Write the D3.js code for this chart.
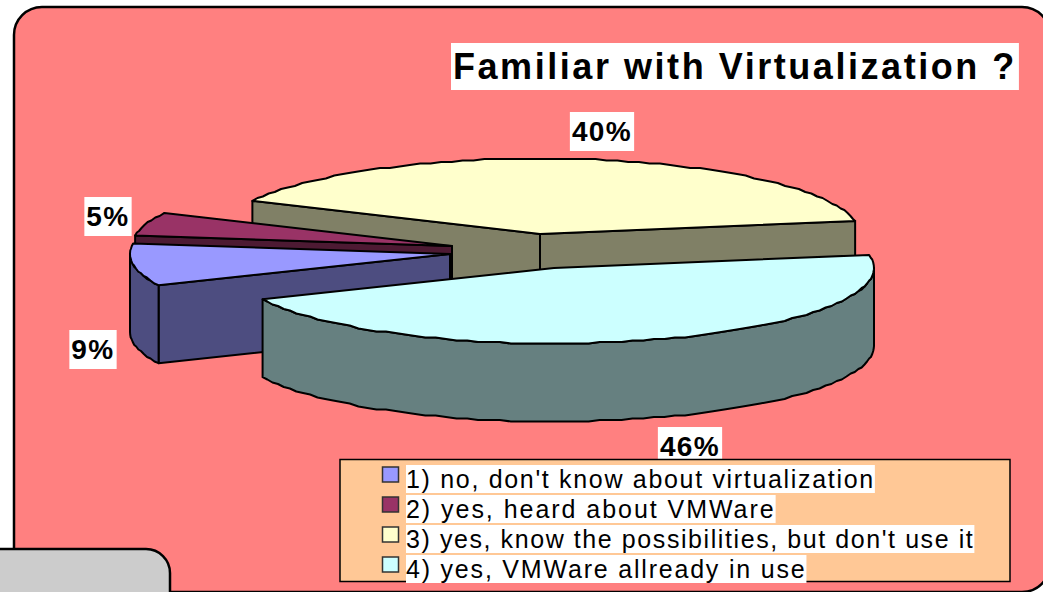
<!DOCTYPE html>
<html>
<head>
<meta charset="utf-8">
<script src="https://cdn.jsdelivr.net/npm/d3@7/dist/d3.min.js"></script>
<style>
  html, body { margin: 0; padding: 0; background: #fff; overflow: hidden; }
  text { font-family: "Liberation Sans", Arial, sans-serif; fill: #000; }
</style>
</head>
<body>
<script>
const categories = [
  "1) no, don't know about virtualization",
  "2) yes, heard about VMWare",
  "3) yes, know the possibilities, but don't use it",
  "4) yes, VMWare allready in use"
];
const percents = [9, 5, 40, 46];
const chartTitle = "Familiar with Virtualization ?";

const topColors = ["#9999ff", "#993366", "#ffffcc", "#ccffff"];
const wallColors = ["#4d4d80", "#4d1a33", "#808066", "#668080"];
// where the point of each exploded slice ends up, pixels
const apexX = [450, 452, 540, 554];
const apexY = [254, 246, 234, 268];
// label box centres, pixels
const labelX = [93, 108, 602, 690];
const labelY = [349, 216, 131, 446];
const drawOrder = [2, 1, 0, 3];
// legend rows were stretched differently in the original
const legendSpacing = [1.68, 1.96, 1.58, 1.8];

const width = 1043, height = 592;
const rx = 320, ry = 75.5, depth = 78;
const deg = Math.PI / 180;

const svg = d3.select("body").append("svg")
  .attr("width", width).attr("height", height)
  .style("display", "block");

// panel, runs off the right and bottom of the picture
svg.append("rect")
  .attr("x", 14).attr("y", 7)
  .attr("width", 1036).attr("height", 585)
  .attr("rx", 28).attr("ry", 28)
  .attr("fill", "#ff8080").attr("stroke", "#000").attr("stroke-width", 2.5);

svg.append("rect")
  .attr("x", -30).attr("y", 549)
  .attr("width", 200).attr("height", 80)
  .attr("rx", 24).attr("ry", 24)
  .attr("fill", "#cccccc").attr("stroke", "#000").attr("stroke-width", 2.5);

// pie angles, clockwise from 12 o'clock. Blue starts lower left
const startAngle = -114.4 * deg;
const arcs = d3.pie().sort(null)
  .startAngle(startAngle)
  .endAngle(startAngle + 2 * Math.PI)(percents);

const xUnit = d3.scaleLinear().domain([-1, 1]).range([-rx, rx]);
const yUnit = d3.scaleLinear().domain([-1, 1]).range([-ry, ry]);

const rim = (i, angle, drop = 0) => [
  apexX[i] + xUnit(Math.sin(angle)),
  apexY[i] + yUnit(-Math.cos(angle)) + drop
];

// the original rim is a little stair-stepped, so snap the points
const rimPoints = (i, a0, a1, drop = 0) => {
  const n = Math.max(2, Math.ceil(Math.abs(a1 - a0) / (2 * deg)));
  return d3.range(n + 1).map(k => {
    const p = rim(i, a0 + (a1 - a0) * k / n, drop);
    return (k == 0 || k == n) ? p : [p[0], Math.round(p[1] / 1.5) * 1.5];
  });
};

const line = d3.line();
const pieG = svg.append("g")
  .attr("stroke", "#000").attr("stroke-width", 2)
  .attr("stroke-linejoin", "round");

const addWall = (pts, color) => pieG.append("path")
  .attr("d", line(pts) + "Z").attr("fill", color);

const norm = t => ((t % (2 * Math.PI)) + 2 * Math.PI) % (2 * Math.PI);

drawOrder.forEach(i => {
  const a = arcs[i];
  const apex = [apexX[i], apexY[i]];
  const apexLow = [apexX[i], apexY[i] + depth];
  const s = norm(a.startAngle), e = s + (a.endAngle - a.startAngle);

  // straight cut faces, only those looking toward the viewer
  if (Math.sin(a.startAngle) < 0) addWall([apex, rim(i, a.startAngle), rim(i, a.startAngle, depth), apexLow], wallColors[i]);
  if (Math.sin(a.endAngle) > 0) addWall([apex, rim(i, a.endAngle), rim(i, a.endAngle, depth), apexLow], wallColors[i]);

  // outer wall, only the part between 3 and 9 o'clock shows
  const w0 = Math.max(s, Math.PI / 2), w1 = Math.min(e, 3 * Math.PI / 2);
  if (w1 > w0) {
    const upper = rimPoints(i, w0, w1);
    const lower = rimPoints(i, w1, w0, depth);
    addWall(upper.concat(lower), wallColors[i]);
  }

  pieG.append("path")
    .attr("d", line([apex].concat(rimPoints(i, a.startAngle, a.endAngle))) + "Z")
    .attr("fill", topColors[i]);
});

// puts a white box behind a text, sized from the text itself
const boxedText = (g, x, y, str, size, weight, spacing, anchor, padX, padY) => {
  const box = g.append("rect").attr("fill", "#fff");
  const t = g.append("text")
    .attr("x", x).attr("y", y)
    .attr("text-anchor", anchor)
    .attr("font-size", size).attr("font-weight", weight)
    .style("letter-spacing", spacing + "px")
    .text(str);
  const b = t.node().getBBox();
  box.attr("x", b.x - padX).attr("y", b.y - padY)
    .attr("width", b.width + 2 * padX).attr("height", b.height + 2 * padY);
  return t;
};

boxedText(svg.append("g"), 453, 79, chartTitle, 36, "bold", 2.55, "start", 2, 3);

const labelG = svg.append("g");
percents.forEach((p, i) => {
  boxedText(labelG.append("g"), labelX[i], labelY[i] + 10, p + "%", 28, "bold", 1.4, "middle", 2, 4);
});

// legend
const legendY = d3.scalePoint().domain(categories).range([488, 578]);
const legend = svg.append("g");
legend.append("rect")
  .attr("x", 340).attr("y", 459.5).attr("width", 670).attr("height", 122)
  .attr("fill", "#ffc896").attr("stroke", "#000").attr("stroke-width", 1.5);

categories.forEach((c, i) => {
  const row = legend.append("g");
  boxedText(row, 406, legendY(c), c, 25, "normal", legendSpacing[i], "start", 0, 0);
  row.append("rect")
    .attr("x", 382.5).attr("y", legendY(c) - 21)
    .attr("width", 16).attr("height", 15)
    .attr("fill", topColors[i]).attr("stroke", "#333").attr("stroke-width", 1.5);
});
</script>
</body>
</html>
